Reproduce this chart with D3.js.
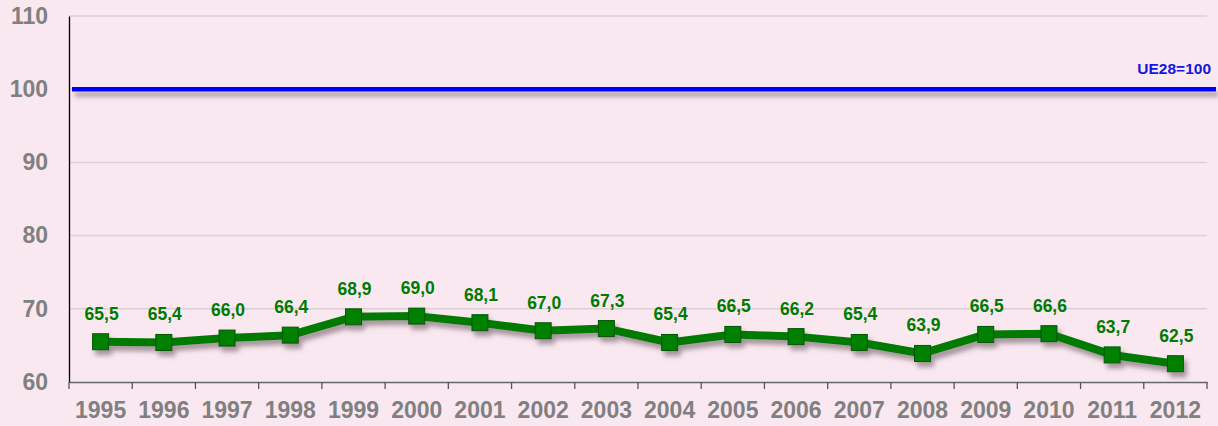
<!DOCTYPE html>
<html>
<head>
<meta charset="utf-8">
<script src="https://cdn.jsdelivr.net/npm/d3@7"></script>
<style>
  html, body { margin: 0; padding: 0; background: #FAE8F0; }
  svg { display: block; }
  text { font-family: "Liberation Sans", Arial, sans-serif; font-weight: bold; }
</style>
</head>
<body>
<svg id="chart" width="1218" height="426"></svg>
<script>
// Years on the horizontal axis
const years = ["1995","1996","1997","1998","1999","2000","2001","2002","2003",
               "2004","2005","2006","2007","2008","2009","2010","2011","2012"];
// Index values (UE28 = 100)
const values = [65.5, 65.4, 66.0, 66.4, 68.9, 69.0, 68.1, 67.0, 67.3,
                65.4, 66.5, 66.2, 65.4, 63.9, 66.5, 66.6, 63.7, 62.5];
// Reference level and its label
const referenceValue = 100;
const referenceLabel = "UE28=100";
// Vertical axis ticks
const yTicks = [60, 70, 80, 90, 100, 110];

const W = 1218, H = 426;
const margin = { left: 69, right: 11, top: 16, bottom: 44 };

const svg = d3.select("#chart");

// Soft drop shadow shared by the reference line and the series
const defs = svg.append("defs");
const f = defs.append("filter").attr("id", "shadow")
  .attr("filterUnits", "userSpaceOnUse")
  .attr("x", 0).attr("y", 0).attr("width", W).attr("height", H);
f.append("feDropShadow").attr("dx", 3).attr("dy", 5).attr("stdDeviation", 2.8)
  .attr("flood-color", "#6a5a62").attr("flood-opacity", 0.6);

const x = d3.scaleBand().domain(years).range([margin.left, W - margin.right]);
const y = d3.scaleLinear().domain([60, 110]).range([H - margin.bottom, margin.top]);

const fmt = v => d3.format(".1f")(v).replace(".", ",");

// Horizontal gridlines
svg.append("g").selectAll("line").data(yTicks.filter(t => t > 60)).join("line")
  .attr("x1", margin.left).attr("x2", W - margin.right)
  .attr("y1", d => y(d)).attr("y2", d => y(d))
  .attr("stroke", "#DCCFD6").attr("stroke-width", 1.5);

// Y axis
const yAxis = svg.append("g").attr("transform", `translate(${margin.left},0)`)
  .call(d3.axisLeft(y).tickValues(yTicks).tickSize(0).tickPadding(21));
yAxis.select(".domain").attr("stroke", "#000").attr("stroke-width", 1.3);
yAxis.selectAll("text").attr("fill", "#808080").style("font-size", "23px")
  .style("font-family", "'Liberation Sans', Arial, sans-serif").style("font-weight", "bold");

// X axis
const xAxis = svg.append("g").attr("transform", `translate(0,${H - margin.bottom})`)
  .call(d3.axisBottom(x).tickSize(0).tickPadding(20));
xAxis.select(".domain").attr("stroke", "#666").attr("stroke-width", 1.5);
xAxis.selectAll("text").attr("fill", "#808080").style("font-size", "23px")
  .style("font-family", "'Liberation Sans', Arial, sans-serif").style("font-weight", "bold");
// Category boundary ticks
const bounds = years.map(d => x(d)).concat([x.range()[1]]);
xAxis.append("g").selectAll("line").data(bounds).join("line")
  .attr("x1", d => d).attr("x2", d => d).attr("y1", 0).attr("y2", 7)
  .attr("stroke", "#555").attr("stroke-width", 1.3);

// Reference line
svg.append("line")
  .attr("x1", margin.left + 3).attr("x2", W - 2)
  .attr("y1", y(referenceValue)).attr("y2", y(referenceValue))
  .attr("stroke", "#0000FF").attr("stroke-width", 4.5)
  .attr("filter", "url(#shadow)");
svg.append("text")
  .attr("x", W - 7).attr("y", y(referenceValue) - 15)
  .attr("text-anchor", "end").attr("fill", "#1515E0")
  .style("font-size", "15.5px").text(referenceLabel);

// Data series
const cx = d => x(d) + x.bandwidth() / 2;
const g = svg.append("g").attr("filter", "url(#shadow)");
g.append("path")
  .datum(years.map((yr, i) => [cx(yr), y(values[i])]))
  .attr("d", d3.line())
  .attr("fill", "none").attr("stroke", "#007A00").attr("stroke-width", 8)
  .attr("stroke-linejoin", "round");
const s = 16;
g.selectAll("rect").data(years).join("rect")
  .attr("x", d => cx(d) - s / 2)
  .attr("y", (d, i) => y(values[i]) - s / 2)
  .attr("width", s).attr("height", s)
  .attr("fill", "#008000").attr("stroke", "#005500").attr("stroke-width", 1);

// Value labels
svg.append("g").selectAll("text").data(years).join("text")
  .attr("x", d => cx(d) + 1)
  .attr("y", (d, i) => y(values[i]) - 22)
  .attr("text-anchor", "middle").attr("fill", "#007A00")
  .style("font-size", "17.5px")
  .text((d, i) => fmt(values[i]));
</script>
</body>
</html>
